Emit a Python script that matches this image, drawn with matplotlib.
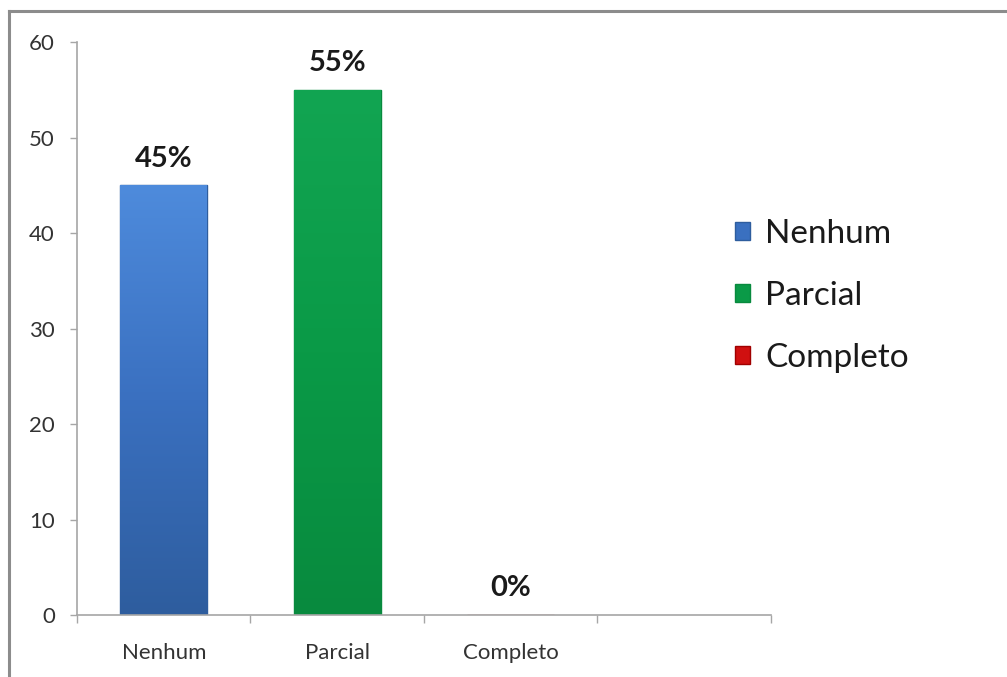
import numpy as np
import matplotlib
matplotlib.use("Agg")
import matplotlib.pyplot as plt
from matplotlib.colors import LinearSegmentedColormap
from matplotlib.lines import Line2D

plt.rcParams['font.family'] = ['Lato', 'DejaVu Sans']

# data
categories = ['Nenhum', 'Parcial', 'Completo']
values = [45, 55, 0]
n_slots = 4  # the category axis keeps one empty slot on the right
bar_colors = ['#3a70c0', '#0a9a47', '#d01010']
light_colors = ['#4e8bdc', '#12a552', '#f03030']
dark_colors = ['#2e5d9e', '#088a3e', '#a00000']
y_ticks = [0, 10, 20, 30, 40, 50, 60]

fig = plt.figure(figsize=(10.07, 6.77), dpi=100)
ax = fig.add_axes([0.0765, 0.0916, 0.689, 0.846])

x = np.arange(len(categories))
bar_width = 0.5
for i, (cat, val) in enumerate(zip(categories, values)):
    bars = ax.bar(x[i], val, width=bar_width, color=bar_colors[i],
                  edgecolor=dark_colors[i], linewidth=1.0, label=cat, zorder=2)
    if val > 0:
        # vertical shading inside the bar, lighter at the top
        rect = bars[0]
        grad = np.linspace(1, 0, 256).reshape(-1, 1)
        cmap = LinearSegmentedColormap.from_list(
            'bar%d' % i, [dark_colors[i], bar_colors[i], light_colors[i]])
        img = ax.imshow(grad, cmap=cmap, aspect='auto', origin='upper',
                        extent=[x[i] - bar_width / 2, x[i] + bar_width / 2, 0, val],
                        zorder=2.1, interpolation='bicubic')
        img.set_clip_path(rect)
        # light bevel strip at the top of the bar
        ax.bar(x[i], 0.7, bottom=val - 0.7, width=bar_width * 0.94,
               color=light_colors[i], alpha=0.9, linewidth=0, zorder=2.2)
    ax.annotate(f'{val}%', xy=(x[i], val), xytext=(0, 10),
                textcoords='offset points', ha='center', va='bottom',
                fontsize=21, fontweight='bold', color='#1a1a1a')

ax.set_xlim(-0.5, n_slots - 0.5)
ax.set_ylim(0, 60)
ax.set_yticks(y_ticks)
ax.set_yticklabels([str(t) for t in y_ticks])

# ticks sit between categories, labels sit under them
ax.set_xticks(np.arange(n_slots + 1) - 0.5)
ax.set_xticklabels([])
ax.set_xticks(x, minor=True)
ax.set_xticklabels(categories, minor=True)
ax.tick_params(axis='x', which='major', length=6, width=1, color='#a6a6a6',
               direction='out')
ax.tick_params(axis='x', which='minor', length=0, pad=20, labelsize=16,
               labelcolor='#333333')
ax.tick_params(axis='y', length=5, width=1, color='#a6a6a6', direction='out',
               pad=11, labelsize=16, labelcolor='#333333')

for side in ['top', 'right']:
    ax.spines[side].set_visible(False)
for side in ['left', 'bottom']:
    ax.spines[side].set_color('#a6a6a6')
    ax.spines[side].set_linewidth(1.2)

leg = ax.legend(loc='upper left', bbox_to_anchor=(0.717, 0.696),
                bbox_transform=fig.transFigure, frameon=False, fontsize=24,
                handlelength=0.45, handleheight=0.45, handletextpad=0.45,
                labelspacing=0.96, borderaxespad=0)
for t in leg.get_texts():
    t.set_color('#1a1a1a')

# outer frame of the chart area
frame_kw = dict(color='#8c8c8c', linewidth=2.2, transform=fig.transFigure)
fig.add_artist(Line2D([0.0085, 0.0085], [0.0, 0.9835], **frame_kw))
fig.add_artist(Line2D([0.0085, 1.0], [0.9835, 0.9835], **frame_kw))

fig.savefig('out.png', dpi=100)
